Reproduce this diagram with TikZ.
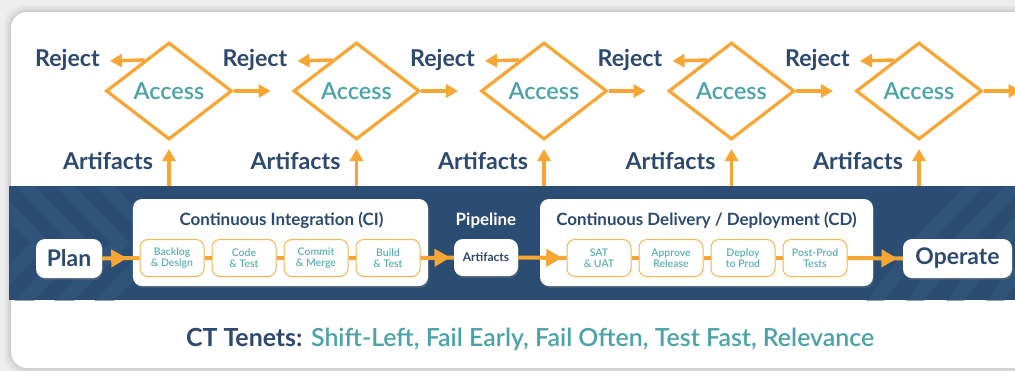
\documentclass[tikz,border=0pt]{standalone}
\usepackage{fontspec}
\setmainfont{Lato}
\newfontfamily\latosemi{Lato Semibold}
\usetikzlibrary{arrows.meta,decorations.markings,shapes.geometric,calc,shadows}
\definecolor{navy}{HTML}{2D4A6E}
\definecolor{ctteal}{HTML}{4AA3A8}
\definecolor{stepteal}{HTML}{5AAFB3}
\definecolor{ctorange}{HTML}{F7A633}
\definecolor{bandc}{HTML}{2B4D73}
\definecolor{stripec}{HTML}{33587F}
\definecolor{bgray}{HTML}{EEEEEE}
\begin{document}
\begin{tikzpicture}[x=1bp,y=-1bp,
  gate/.style={diamond, draw=ctorange, line width=3.2bp, minimum width=126bp, minimum height=97bp, aspect=1.3, inner sep=0pt, font=\latosemi\fontsize{23.5}{27}\selectfont, text=ctteal},
  bigtext/.style={font=\bfseries\fontsize{23.3}{27}\selectfont, text=navy, inner sep=0pt},
  uparrow/.style={draw=ctorange, line width=3.4bp, -{Triangle[length=12bp,width=13bp]}},
  stagebox/.style={fill=white, rounded corners=9bp, inner sep=0pt, drop shadow={opacity=0.3, shadow xshift=1bp, shadow yshift=-2bp}},
  endbox/.style={fill=white, rounded corners=9bp, inner sep=0pt, font=\bfseries\fontsize{23}{27}\selectfont, text=navy, minimum height=39bp, drop shadow={opacity=0.3, shadow xshift=1bp, shadow yshift=-2bp}},
  stepbox/.style={draw=ctorange!85, line width=1bp, fill=white, rounded corners=8bp, minimum width=64bp, minimum height=37bp, inner sep=0pt, align=center, text=stepteal, font=\latosemi\fontsize{10.5}{12}\selectfont},
  titletext/.style={font=\bfseries\fontsize{17}{20}\selectfont, inner sep=0pt},
  flowline/.style={draw=ctorange, line width=4bp},
  flowarrow/.style={flowline, postaction={decorate}, decoration={markings, mark=at position #1 with {\arrow{Triangle[length=16bp,width=17bp]}}}}
]
\useasboundingbox (0,0) rectangle (1015,370);
\fill[bgray] (-20,-20) rectangle (1080,400);
% card with soft shadow
\foreach \s/\o in {7/0.02,5/0.03,3/0.04,1.5/0.05}
  \fill[black, opacity=\o, rounded corners=18bp] (11-\s,12-\s) rectangle (1070,368+\s);
\fill[white, rounded corners=16bp] (11,12) rectangle (1070,368);

% band
\node[fill=bandc, minimum width=1040bp, minimum height=114bp, inner sep=0pt, anchor=north west] (band) at (9,186) {};
\begin{scope}
  \clip (9,186) rectangle (1049,300);
  \foreach \k in {-40,0,40,80} {
    \draw[stripec, line width=14bp, opacity=0.55] (\k,160) -- (\k+80,243) -- (\k,326);
  }
  \foreach \k in {860,900,940,980,1020} {
    \draw[stripec, line width=14bp, opacity=0.55] (\k,320) -- (\k+60,243) -- (\k+140,160);
  }
\end{scope}

% stage boxes
\node[stagebox, minimum width=295bp, minimum height=87bp] (ci) at (280.5,242.5) {};
\node[stagebox, minimum width=333bp, minimum height=87bp] (cd) at (706.5,242.5) {};
\node[titletext, text=navy, anchor=base] (citl) at (281.5,225) {Continuous Integration (CI)};
\node[titletext, text=navy, anchor=base] (cdtl) at (706.5,225) {Continuous Delivery / Deployment (CD)};
\node[titletext, text=white, anchor=base] (pipe) at (486,225) {Pipeline};

% steps
\node[stepbox] (s1) at (172,258) {Backlog\\[-1pt]\& Design};
\node[stepbox] (s2) at (244,258) {Code\\[-1pt]\& Test};
\node[stepbox] (s3) at (316,258) {Commit\\[-1pt]\& Merge};
\node[stepbox] (s4) at (388,258) {Build\\[-1pt]\& Test};
\node[stepbox] (s5) at (599,258) {SAT\\[-1pt]\& UAT};
\node[stepbox] (s6) at (671,258) {Approve\\[-1pt]Release};
\node[stepbox] (s7) at (743,258) {Deploy\\[-1pt]to Prod};
\node[stepbox] (s8) at (815,258) {Post-Prod\\[-1pt]Tests};

\node[endbox, minimum width=66bp] (plan) at (69,258.5) {Plan};
\node[endbox, minimum width=109bp] (oper) at (957.5,258.5) {Operate};
\node[endbox, minimum width=64bp, minimum height=37bp, font=\bfseries\fontsize{12}{14}\selectfont] (art) at (486,257.5) {Artifacts};

% flow connectors
\draw[flowarrow=25bp] (plan.east) -- (s1.west);
\draw[flowline] (s1.east) -- (s2.west);
\draw[flowline] (s2.east) -- (s3.west);
\draw[flowline] (s3.east) -- (s4.west);
\draw[flowarrow=30bp] (s4.east) -- (art.west);
\draw[flowarrow=44bp] (art.east) -- (s5.west);
\draw[flowline] (s5.east) -- (s6.west);
\draw[flowline] (s6.east) -- (s7.west);
\draw[flowline] (s7.east) -- (s8.west);
\draw[flowarrow=50bp] (s8.east) -- (oper.west);

% gates
\foreach \i in {1,...,5} {
  \pgfmathsetmacro\cx{169+187.5*(\i-1)}
  \node[gate] (g\i) at (\cx,91) {Access};
  \coordinate (gr\i) at ($(g\i.east)+(37,0)$);
  \draw[uparrow] (g\i.east) -- (gr\i);
  \coordinate (rj\i) at (\cx-59,61);
  \draw[uparrow] ($(g\i.west)!0.62!(g\i.north)$) -- (rj\i);
  \node[bigtext, anchor=base east] (rt\i) at (\cx-69,66) {Reject};
  \node[bigtext, anchor=base] (at\i) at (\cx-61,169) {Artifacts};
  \coordinate (ab\i) at (\cx,186);
  \coordinate (au\i) at (\cx,149);
  \draw[uparrow] (ab\i) -- (au\i);
}

% tenets
\node[anchor=base, inner sep=0pt, font=\fontsize{25}{30}\selectfont] (ten) at (530,346)
  {{\bfseries\color{navy}CT Tenets:} {\latosemi\color{ctteal}Shift-Left, Fail Early, Fail Often, Test Fast, Relevance}};
\end{tikzpicture}
\end{document}
